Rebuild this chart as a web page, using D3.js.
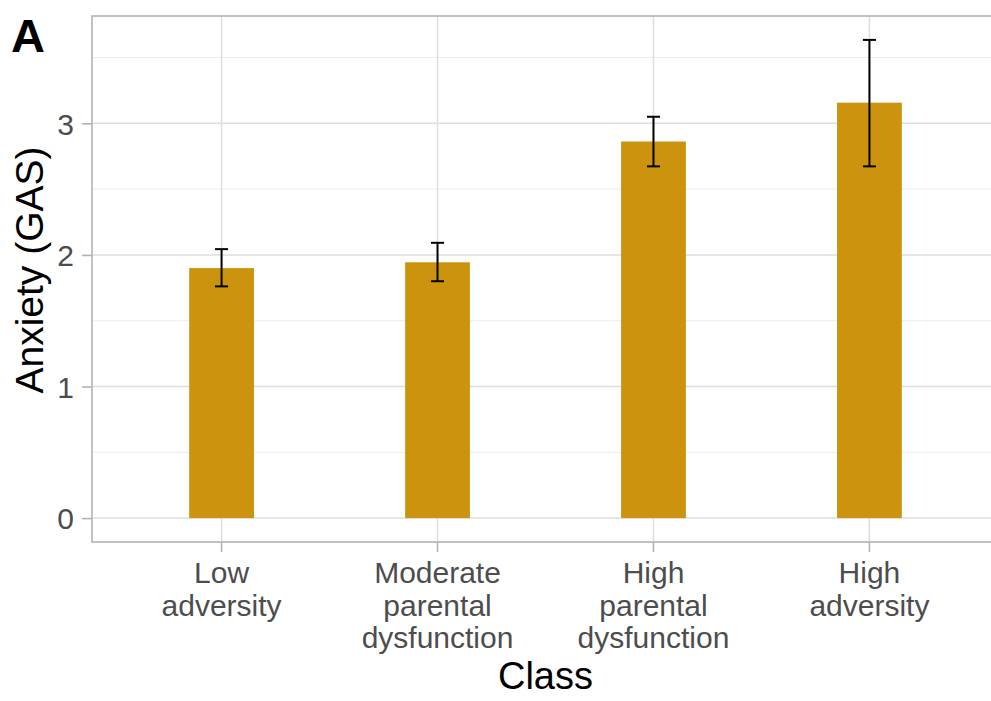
<!DOCTYPE html>
<html>
<head>
<meta charset="utf-8">
<script src="https://cdn.jsdelivr.net/npm/d3@7"></script>
<style>
  html, body { margin: 0; padding: 0; background: #fff; }
  svg { display: block; font-family: "Liberation Sans", Arial, Helvetica, sans-serif; }
</style>
</head>
<body>
<svg id="chart" width="991" height="701"></svg>
<script>
// Latent classes and mean anxiety (GAS) with confidence limits
const classes = [
  ["Low", "adversity"],
  ["Moderate", "parental", "dysfunction"],
  ["High", "parental", "dysfunction"],
  ["High", "adversity"]
];
const classKeys = ["Low adversity", "Moderate parental dysfunction", "High parental dysfunction", "High adversity"];
const meanAnxiety = [1.90, 1.944, 2.862, 3.157];
const lowerCI = [1.761, 1.80, 2.673, 2.673];
const upperCI = [2.044, 2.092, 3.05, 3.634];
const yTicks = [0, 1, 2, 3];
const yMinorTicks = [0.5, 1.5, 2.5, 3.5];

const panel = { left: 92, right: 999, top: 16, bottom: 542 };
const barColor = "#cc940e";

const svg = d3.select("#chart");

const x = d3.scaleBand()
  .domain(classKeys)
  .range([panel.left, panel.right])
  .paddingInner(0.7)
  .paddingOuter(0.45);

const yMax = d3.max(upperCI);
const pad = yMax * 0.05;
const y = d3.scaleLinear()
  .domain([-pad, yMax + pad])
  .range([panel.bottom, panel.top]);

const center = k => x(k) + x.bandwidth() / 2;

const g = svg.append("g");

// minor grid
g.selectAll("line.minor")
  .data(yMinorTicks)
  .join("line")
  .attr("x1", panel.left).attr("x2", panel.right)
  .attr("y1", d => y(d)).attr("y2", d => y(d))
  .attr("stroke", "#ececec").attr("stroke-width", 1);

// major grid
g.selectAll("line.majorY")
  .data(yTicks)
  .join("line")
  .attr("x1", panel.left).attr("x2", panel.right)
  .attr("y1", d => y(d)).attr("y2", d => y(d))
  .attr("stroke", "#dedede").attr("stroke-width", 1.5);

g.selectAll("line.majorX")
  .data(classKeys)
  .join("line")
  .attr("x1", d => center(d)).attr("x2", d => center(d))
  .attr("y1", panel.top).attr("y2", panel.bottom)
  .attr("stroke", "#dedede").attr("stroke-width", 1.5);

// bars
g.selectAll("rect.bar")
  .data(classKeys)
  .join("rect")
  .attr("x", d => x(d))
  .attr("width", x.bandwidth())
  .attr("y", (d, i) => y(meanAnxiety[i]))
  .attr("height", (d, i) => y(0) - y(meanAnxiety[i]))
  .attr("fill", barColor);

// error bars
const capHalf = 6.5;
const eb = g.selectAll("g.err")
  .data(classKeys)
  .join("g")
  .attr("stroke", "#000")
  .attr("stroke-width", 2);
eb.append("line")
  .attr("x1", d => center(d)).attr("x2", d => center(d))
  .attr("y1", (d, i) => y(lowerCI[i])).attr("y2", (d, i) => y(upperCI[i]));
eb.append("line")
  .attr("x1", d => center(d) - capHalf).attr("x2", d => center(d) + capHalf)
  .attr("y1", (d, i) => y(lowerCI[i])).attr("y2", (d, i) => y(lowerCI[i]));
eb.append("line")
  .attr("x1", d => center(d) - capHalf).attr("x2", d => center(d) + capHalf)
  .attr("y1", (d, i) => y(upperCI[i])).attr("y2", (d, i) => y(upperCI[i]));

// panel border
g.append("rect")
  .attr("x", panel.left).attr("y", panel.top)
  .attr("width", panel.right - panel.left)
  .attr("height", panel.bottom - panel.top)
  .attr("fill", "none")
  .attr("stroke", "#b3b3b3").attr("stroke-width", 1.6);

// y axis
const yAxis = svg.append("g")
  .attr("transform", `translate(${panel.left},0)`)
  .call(d3.axisLeft(y).tickValues(yTicks).tickSize(10).tickPadding(8).tickFormat(d3.format("d")));
yAxis.select(".domain").remove();
yAxis.selectAll(".tick line").attr("stroke", "#b3b3b3").attr("stroke-width", 1.6);
yAxis.selectAll(".tick text")
  .attr("fill", "#4d4d4d")
  .style("font-size", "30px")
  .attr("dy", "0.36em");

// x axis
const xAxis = svg.append("g")
  .attr("transform", `translate(0,${panel.bottom})`)
  .call(d3.axisBottom(x).tickSize(10).tickFormat(""));
xAxis.select(".domain").remove();
xAxis.selectAll(".tick line").attr("stroke", "#b3b3b3").attr("stroke-width", 1.6);
xAxis.selectAll(".tick").each(function(d, i) {
  const t = d3.select(this).append("text")
    .attr("fill", "#4d4d4d")
    .attr("text-anchor", "middle")
    .style("font-size", "30px");
  classes[i].forEach((line, j) => {
    t.append("tspan").attr("x", 0).attr("y", 41 + j * 32.5).text(line);
  });
});

// axis titles
svg.append("text")
  .attr("x", (panel.left + panel.right) / 2)
  .attr("y", 689)
  .attr("text-anchor", "middle")
  .style("font-size", "38px")
  .attr("fill", "#000")
  .text("Class");

svg.append("text")
  .attr("transform", `translate(43,270) rotate(-90)`)
  .attr("text-anchor", "middle")
  .style("font-size", "39px")
  .attr("fill", "#000")
  .text("Anxiety (GAS)");

// panel tag
svg.append("text")
  .attr("x", 11)
  .attr("y", 52)
  .style("font-size", "47px")
  .style("font-weight", "bold")
  .attr("fill", "#000")
  .text("A");
</script>
</body>
</html>
